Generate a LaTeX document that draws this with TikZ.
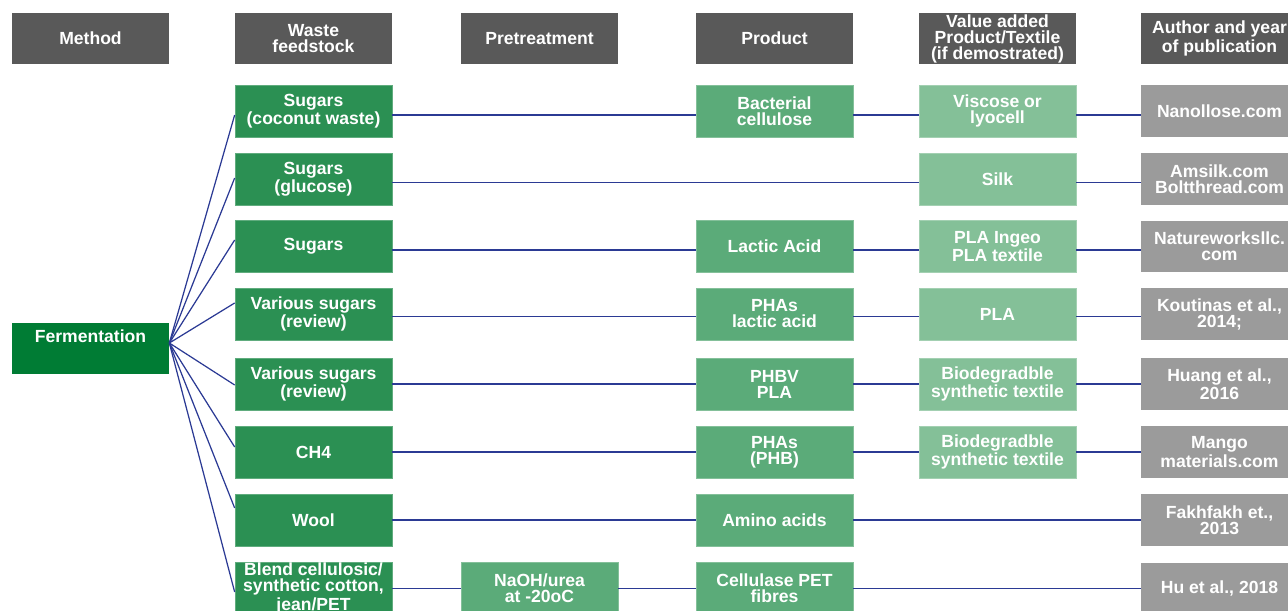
\documentclass[tikz,border=0pt]{standalone}
\usepackage{fontspec}
\setmainfont{Liberation Sans}
\definecolor{headgray}{HTML}{595959}
\definecolor{fermgreen}{HTML}{007C34}
\definecolor{feedgreen}{HTML}{2B9053}
\definecolor{prodgreen}{HTML}{5BAB79}
\definecolor{valuegreen}{HTML}{84C098}
\definecolor{authgray}{HTML}{9B9B9B}
\definecolor{linkblue}{HTML}{2B3A94}
\begin{document}
\begin{tikzpicture}[x=0.02cm,y=-0.02cm,
	box/.style={minimum width=3.14cm,minimum height=1.04cm,inner sep=0pt,align=center,
		text=white,font=\bfseries\fontsize{10}{9.1}\selectfont},
	headbox/.style={box,fill=headgray},
	fermbox/.style={box,fill=fermgreen},
	feedbox/.style={box,fill=feedgreen,draw=feedgreen!75!white,line width=0.4pt},
	prodbox/.style={box,fill=prodgreen,draw=prodgreen!75!white,line width=0.4pt},
	valuebox/.style={box,fill=valuegreen,draw=valuegreen!75!white,line width=0.4pt},
	authbox/.style={box,fill=authgray},
	link/.style={draw=linkblue,line width=0.7pt}
	]
	
	\clip (0,0) rectangle (1288,611);
	\fill[white] (0,0) rectangle (1288,611);
	
	%headers
	\node[headbox] (hm) at (90.5,38.5) {Method};
	\node[headbox] (hf) at (313.5,38.5) {Waste\\feedstock};
	\node[headbox] (ht) at (539.5,38.5) {Pretreatment};
	\node[headbox] (hp) at (774.5,38.5) {Product};
	\node[headbox] (hv) at (997.5,38.5) {Value added\\Product/Textile\\(if demostrated)};
	\node[headbox] (ha) at (1219.5,38.5) {Author and year\\of publication};
	
	%method
	\node[fermbox] (fer) at (90.5,348.5) {};
	\node[box] (fertxt) at ([yshift=0.24cm]fer.center) {Fermentation};
	\coordinate (fan) at ([yshift=0.11cm]fer.east);
	
	%waste feedstock
	\node[feedbox] (f1) at (313.5,111) {Sugars\\(coconut waste)};
	\node[feedbox] (f2) at (313.5,179) {Sugars\\(glucose)};
	\node[feedbox] (f3) at (313.5,246.5) {Sugars};
	\node[feedbox] (f4) at (313.5,314) {Various sugars\\(review)};
	\node[feedbox] (f5) at (313.5,384) {Various sugars\\(review)};
	\node[feedbox] (f6) at (313.5,452) {CH4};
	\node[feedbox] (f7) at (313.5,520) {Wool};
	\node[feedbox] (f8) at (313.5,588.5) {Blend cellulosic/\\synthetic cotton,\\jean/PET};
	
	%pretreatment
	\node[prodbox] (t8) at (539.5,588.5) {NaOH/urea\\at -20oC};
	
	%product
	\node[prodbox] (p1) at (774.5,111) {Bacterial\\cellulose};
	\node[prodbox] (p3) at (774.5,246.5) {Lactic Acid};
	\node[prodbox] (p4) at (774.5,314) {PHAs\\lactic acid};
	\node[prodbox] (p5) at (774.5,384) {PHBV\\PLA};
	\node[prodbox] (p6) at (774.5,452) {PHAs\\(PHB)};
	\node[prodbox] (p7) at (774.5,520) {Amino acids};
	\node[prodbox] (p8) at (774.5,588.5) {Cellulase PET\\fibres};
	
	%value added
	\node[valuebox] (v1) at (997.5,111) {Viscose or\\lyocell};
	\node[valuebox] (v2) at (997.5,179) {Silk};
	\node[valuebox] (v3) at (997.5,246.5) {PLA Ingeo\\PLA textile};
	\node[valuebox] (v4) at (997.5,314) {PLA};
	\node[valuebox] (v5) at (997.5,384) {Biodegradble\\synthetic textile};
	\node[valuebox] (v6) at (997.5,452) {Biodegradble\\synthetic textile};
	
	%author
	\node[authbox] (a1) at (1219.5,111) {Nanollose.com};
	\node[authbox] (a2) at (1219.5,179) {Amsilk.com\\Boltthread.com};
	\node[authbox] (a3) at (1219.5,246.5) {Natureworksllc.\\com};
	\node[authbox] (a4) at (1219.5,314) {Koutinas et al.,\\2014;};
	\node[authbox] (a5) at (1219.5,384) {Huang et al.,\\2016};
	\node[authbox] (a6) at (1219.5,452) {Mango\\materials.com};
	\node[authbox] (a7) at (1219.5,520) {Fakhfakh et.,\\2013};
	\node[authbox] (a8) at (1219.5,588.5) {Hu et al., 2018};
	
	%fan from fermentation
	\draw[link] (fan) -- ([yshift=-0.08cm]f1.west);
	\draw[link] (fan) -- ([yshift=0.02cm]f2.west);
	\draw[link] (fan) -- ([yshift=0.13cm]f3.west);
	\draw[link] (fan) -- ([yshift=0.22cm]f4.west);
	\draw[link] (fan) -- ([yshift=-0.02cm]f5.west);
	\draw[link] (fan) -- ([yshift=0.10cm]f6.west);
	\draw[link] (fan) -- ([yshift=0.24cm]f7.west);
	\draw[link] (fan) -- ([yshift=-0.07cm]f8.west);
	
	%rows
	\draw[link] ([yshift=-0.08cm]f1.east) -- ([yshift=-0.08cm]p1.west);
	\draw[link] ([yshift=-0.08cm]p1.east) -- ([yshift=-0.08cm]v1.west);
	\draw[link] ([yshift=-0.08cm]v1.east) -- ([yshift=-0.08cm]a1.west);
	
	\draw[link] ([yshift=-0.07cm]f2.east) -- ([yshift=-0.07cm]v2.west);
	\draw[link] ([yshift=-0.07cm]v2.east) -- ([yshift=-0.07cm]a2.west);
	
	\draw[link] ([yshift=-0.07cm]f3.east) -- ([yshift=-0.07cm]p3.west);
	\draw[link] ([yshift=-0.07cm]p3.east) -- ([yshift=-0.07cm]v3.west);
	\draw[link] ([yshift=-0.07cm]v3.east) -- ([yshift=-0.07cm]a3.west);
	
	\draw[link] ([yshift=-0.05cm]f4.east) -- ([yshift=-0.05cm]p4.west);
	\draw[link] ([yshift=-0.05cm]p4.east) -- ([yshift=-0.05cm]v4.west);
	\draw[link] ([yshift=-0.05cm]v4.east) -- ([yshift=-0.05cm]a4.west);
	
	\draw[link] (f5) -- (p5);
	\draw[link] (p5) -- (v5);
	\draw[link] (v5) -- (a5);
	
	\draw[link] (f6) -- (p6);
	\draw[link] (p6) -- (v6);
	\draw[link] (v6) -- (a6);
	
	\draw[link] (f7) -- (p7);
	\draw[link] (p7) -- (a7);
	
	\draw[link] (f8) -- (t8);
	\draw[link] (t8) -- (p8);
	\draw[link] (p8) -- (a8);
	
\end{tikzpicture}
\end{document}
